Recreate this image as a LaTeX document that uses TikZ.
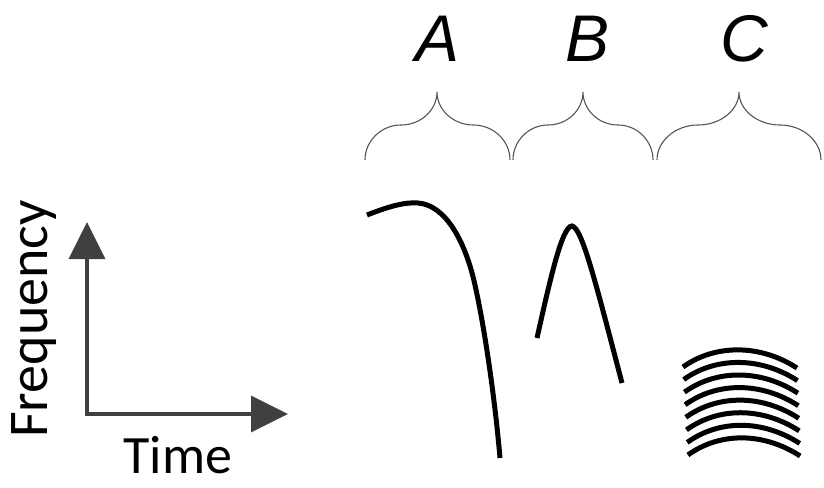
\documentclass[tikz,border=0pt]{standalone}
\usepackage{fontspec}
\newfontfamily\arialfont{Liberation Sans}
\newfontfamily\calfont{Carlito}
\usetikzlibrary{arrows.meta}
\definecolor{axisgray}{HTML}{404040}
\definecolor{bracegray}{HTML}{555555}
\tikzset{
  bracestyle/.style={draw=bracegray, line width=1.1pt},
  curvestyle/.style={draw=black, line width=5pt},
  axisstyle/.style={draw=axisgray, line width=3.5pt, -{Triangle[length=37pt,width=36pt]}, color=axisgray},
  letterstyle/.style={anchor=base, inner sep=0pt, font=\arialfont\itshape\fontsize{66}{70}\selectfont},
  axislabel/.style={anchor=base, inner sep=0pt, font=\calfont\fontsize{56}{60}\selectfont}
}
\newcommand\mybrace[3]{%
  \draw[bracestyle] (#1,160) .. controls (#1,141) and ({#1+0.224*(#2-#1)},125) .. ({#1+0.5*(#2-#1)},125)
    .. controls ({#1+0.776*(#2-#1)},125) and (#2,110) .. (#2,92)
    .. controls (#2,110) and ({#3-0.776*(#3-#2)},125) .. ({#3-0.5*(#3-#2)},125)
    .. controls ({#3-0.224*(#3-#2)},125) and (#3,141) .. (#3,160);}
\begin{document}
\begin{tikzpicture}[x=1pt,y=-1pt]
\useasboundingbox (0,0) rectangle (824,487);
% letters
\node[letterstyle] (labA) at (438,62) {A};
\node[letterstyle] (labB) at (588,62) {B};
\node[letterstyle] (labC) at (744,62) {C};
% braces
\mybrace{365}{437}{510}
\mybrace{513}{583}{653}
\mybrace{657}{739}{821}
% axes
\coordinate (origin) at (87,414);
\coordinate (ytip) at (87,222);
\coordinate (xtip) at (288,414);
\draw[axisstyle] (origin) -- (ytip);
\draw[axisstyle] (origin) -- (xtip);
\draw[draw=axisgray, line width=3.5pt] (87,412) -- (87,416);
\node[axislabel, rotate=90] (freq) at (47,319) {Frequency};
\node[axislabel, font=\calfont\fontsize{54}{60}\selectfont] (time) at (178,473) {Time};
% curve A
\draw[curvestyle] (367,215) .. controls (390,206) and (405,202) .. (418,203)
  .. controls (445,205) and (465,240) .. (475,285)
  .. controls (485,330) and (495,400) .. (500,458);
% curve B
\draw[curvestyle] (537,338) .. controls (550,280) and (562,226) .. (572,226)
  .. controls (582,228) and (595,280) .. (622,383);
% C arcs
\foreach \i in {0,...,7}{
  \pgfmathsetmacro\yy{367+12.57*\i}
  \pgfmathsetmacro\xl{683+0.7*\i}
  \pgfmathsetmacro\xr{797+0.45*\i}
  \draw[curvestyle] (\xl,\yy) .. controls ({\xl+32},{\yy-23}) and ({\xr-37},{\yy-23}) .. (\xr,{\yy+1});
}
\end{tikzpicture}
\end{document}
